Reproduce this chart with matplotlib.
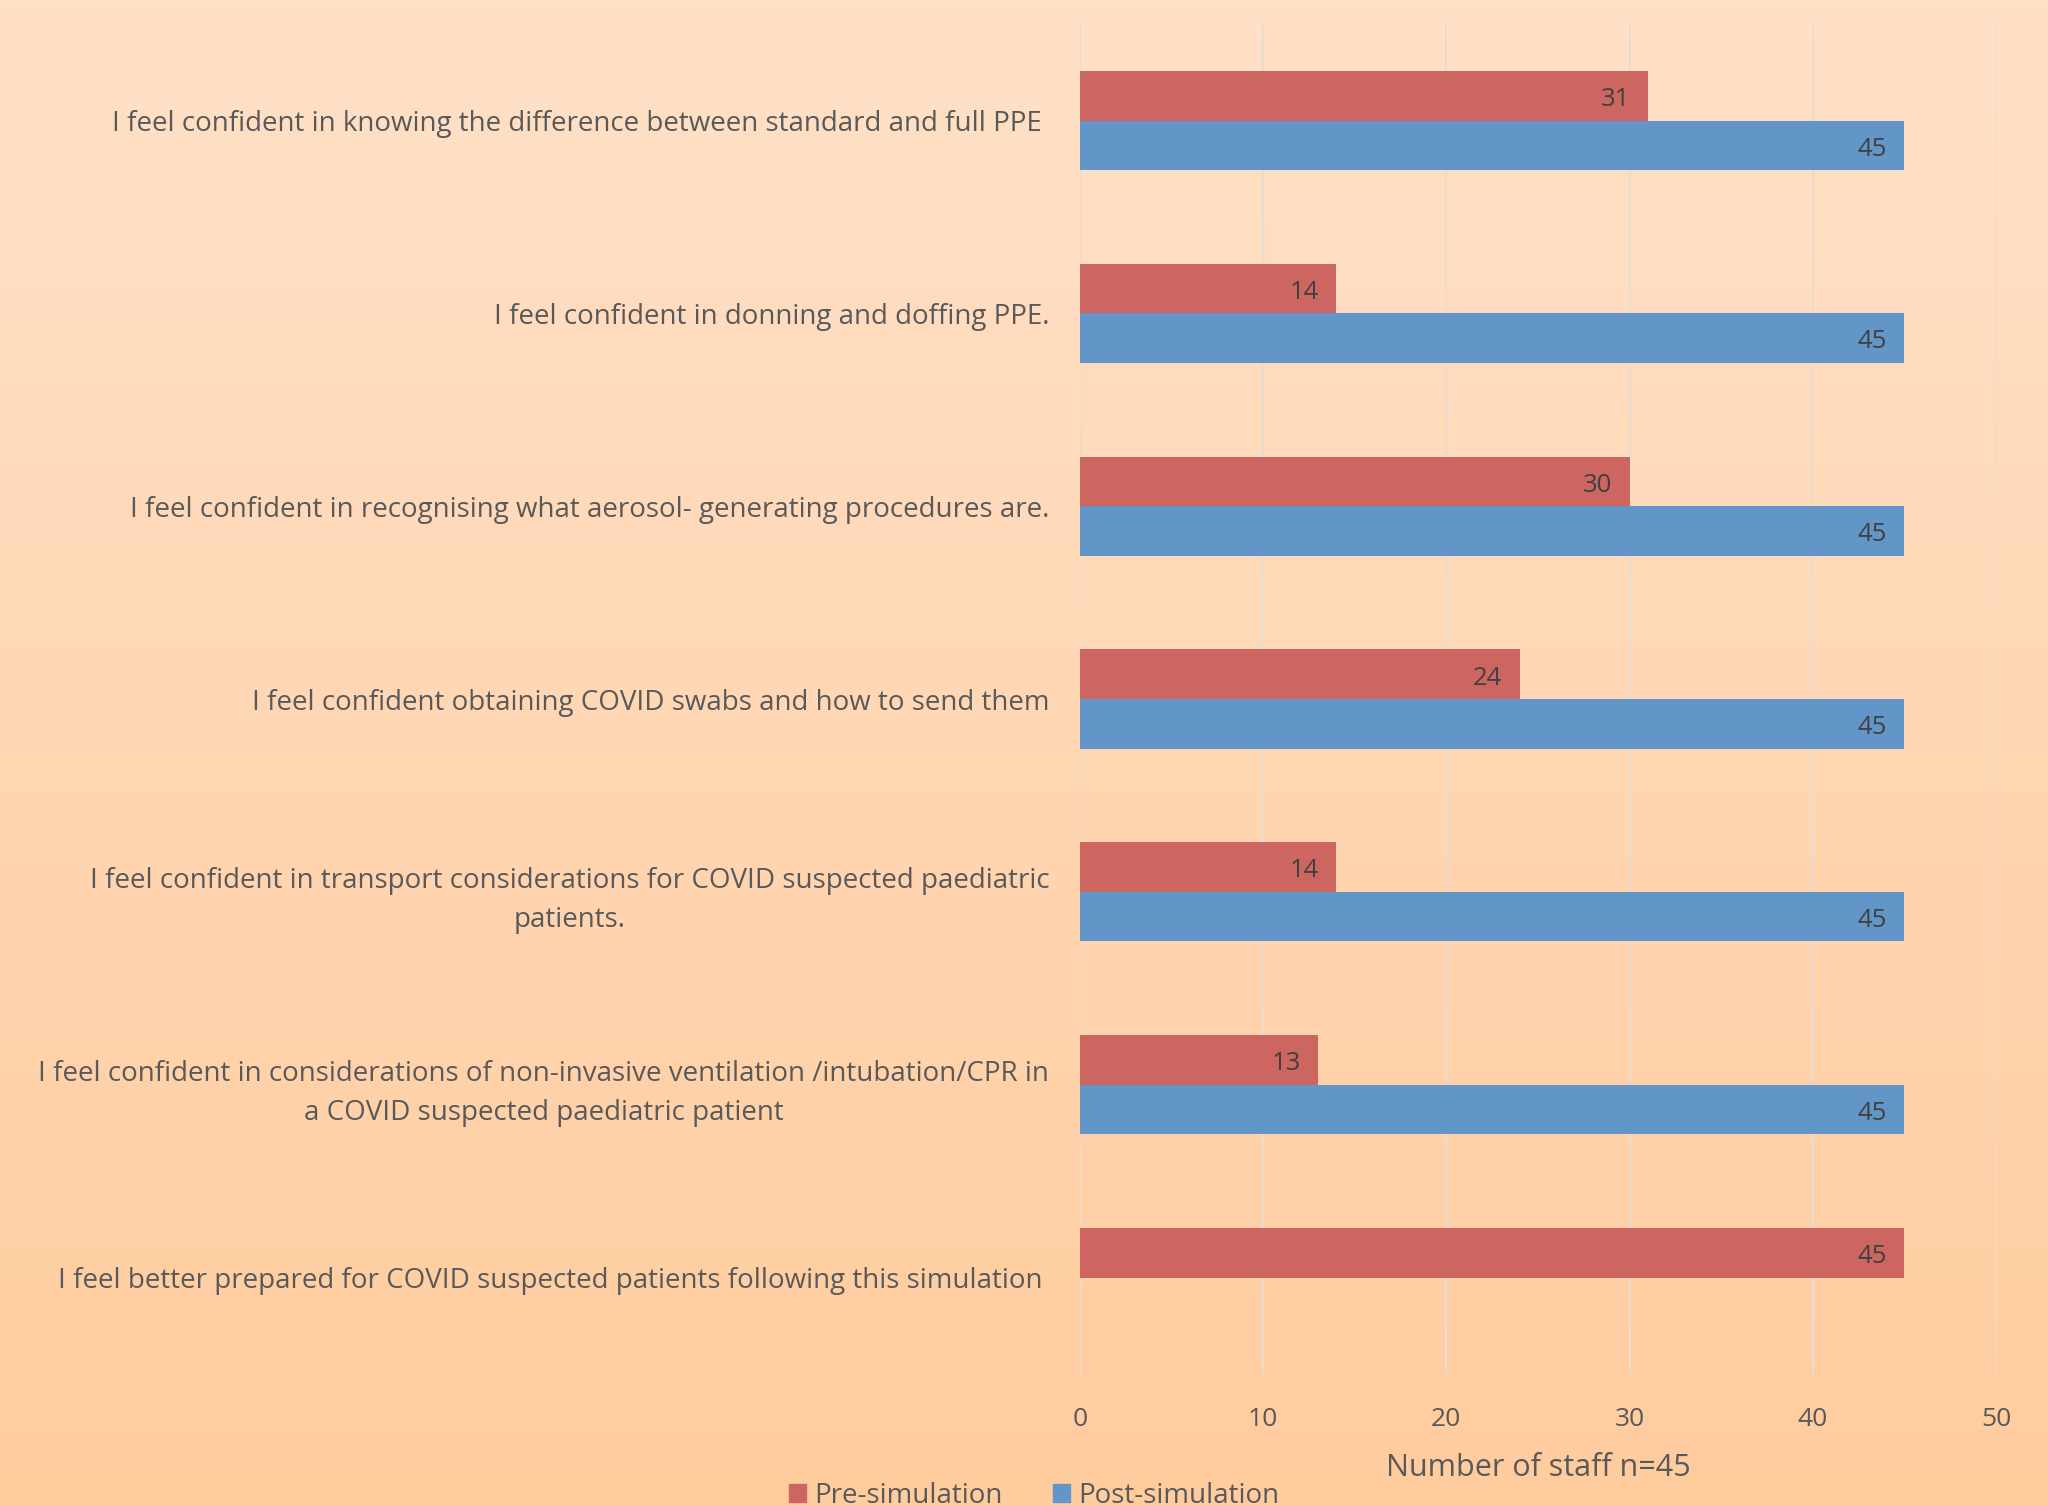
import numpy as np
import matplotlib
matplotlib.use("Agg")
import matplotlib.pyplot as plt
from matplotlib.patches import Patch

# survey statements, top to bottom
statements = [
    "I feel confident in knowing the difference between standard and full PPE ",
    "I feel confident in donning and doffing PPE.",
    "I feel confident in recognising what aerosol- generating procedures are.",
    "I feel confident obtaining COVID swabs and how to send them",
    "I feel confident in transport considerations for COVID suspected paediatric\npatients.",
    "I feel confident in considerations of non-invasive ventilation /intubation/CPR in\na COVID suspected paediatric patient",
    "I feel better prepared for COVID suspected patients following this simulation ",
]
pre_sim = [31, 14, 30, 24, 14, 13, 45]
post_sim = [45, 45, 45, 45, 45, 45, np.nan]
x_ticks = [0, 10, 20, 30, 40, 50]

plt.rcParams['font.family'] = ['Open Sans', 'DejaVu Sans']
txt = '#595959'
red = '#CD6660'
blue = '#6296C8'

fig = plt.figure(figsize=(20.48, 15.06), dpi=100)

# gradient background
bg = fig.add_axes([0, 0, 1, 1], zorder=-10)
top = np.array([255, 225, 200]) / 255
bot = np.array([255, 204, 158]) / 255
t = np.linspace(0, 1, 256)[:, None]
grad = (top * (1 - t) + bot * t)[:, None, :]
bg.imshow(grad, aspect='auto', extent=[0, 1, 0, 1])
bg.axis('off')

ax = fig.add_axes([0.5273, 0.0877, 0.4473, 0.8963])
ax.patch.set_alpha(0)

y = np.arange(len(statements))
h = 0.257
ax.barh(y - h / 2, pre_sim, height=h, color=red, zorder=3)
ax.barh(y + h / 2, post_sim, height=h, color=blue, zorder=3)

# value labels inside the bar ends
for i, (a, b) in enumerate(zip(pre_sim, post_sim)):
    ax.text(a - 0.95, i - h / 2 + 0.02, f"{a}", ha='right', va='center', fontsize=18.5, color='#404040', zorder=4)
    if not np.isnan(b):
        ax.text(b - 0.95, i + h / 2 + 0.02, f"{int(b)}", ha='right', va='center', fontsize=18.5, color='#404040', zorder=4)

ax.set_xlim(0, 50)
ax.set_ylim(len(statements) - 0.5, -0.5)
ax.set_xticks(x_ticks)
ax.set_yticks(y)
ax.set_yticklabels(statements, fontsize=20, color=txt, multialignment='center', linespacing=1.5)
ax.tick_params(axis='x', length=0, pad=24, labelsize=19, labelcolor=txt)
ax.tick_params(axis='y', length=0, pad=22)
ax.grid(axis='x', color='#E8DCD0', linewidth=1.5, zorder=0)
for s in ax.spines.values():
    s.set_visible(False)
ax.axvline(0, color='#E8DCD0', linewidth=1.5, zorder=1)
ax.set_xlabel("Number of staff n=45", fontsize=22, color=txt, labelpad=15)

handles = [Patch(color=red, label='Pre-simulation'), Patch(color=blue, label='Post-simulation')]
fig.legend(handles=handles, loc='lower center', bbox_to_anchor=(0.505, -0.019), ncol=2,
           frameon=False, fontsize=20, labelcolor=txt, handlelength=0.6, handleheight=0.6,
           handletextpad=0.3, columnspacing=1.8)

fig.savefig("out.png", dpi=100)
